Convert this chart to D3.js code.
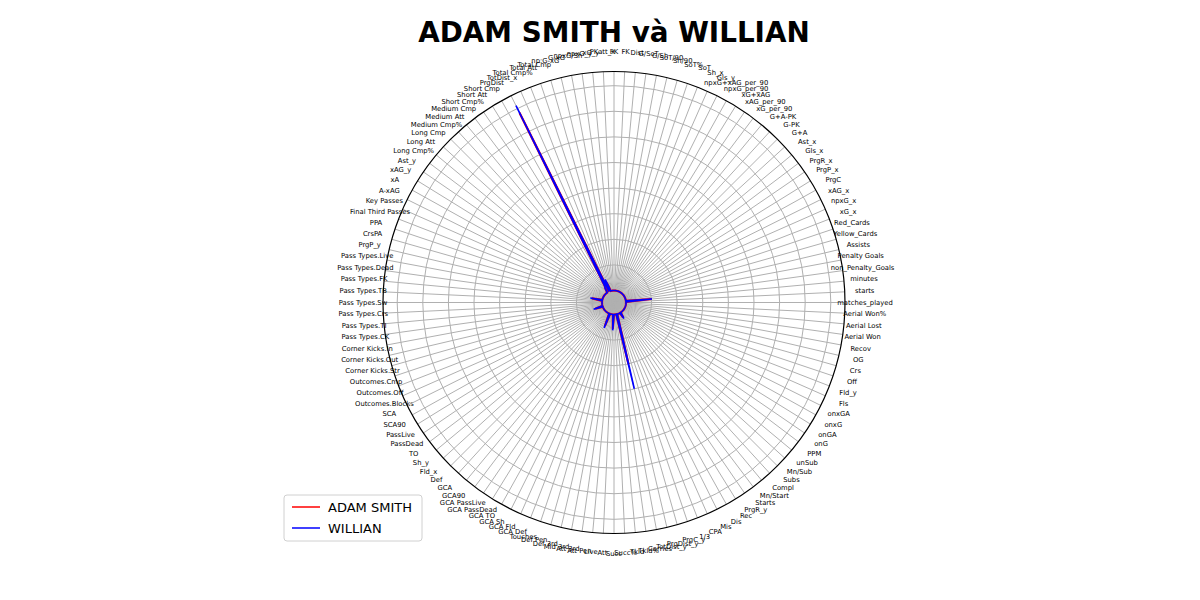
<!DOCTYPE html>
<html><head><meta charset="utf-8">
<script src="https://cdn.jsdelivr.net/npm/d3@7/dist/d3.min.js"></script>
<style>body{margin:0;background:#fff}</style></head>
<body><svg id="c" width="1200" height="600"></svg>
<script>
const categories = ["matches_played","starts","minutes","non_Penalty_Goals","Penalty Goals","Assists","Yellow_Cards","Red_Cards","xG_x","npxG_x",
"xAG_x","PrgC","PrgP_x","PrgR_x","Gls_x","Ast_x","G+A","G-PK","G+A-PK","xG_per_90",
"xAG_per_90","xG+xAG","npxG_per_90","npxG+xAG_per_90","Gls_y","Sh_x","SoT","SoT%","Sh/90","SoT/90",
"G/Sh","G/SoT","Dist","FK","PK","PKatt_x","xG_y","npxG_y","npxG/Sh","G-xG",
"np:G-xG","Total Cmp","Total Att","Total Cmp%","TotDist_x","PrgDist","Short Cmp","Short Att","Short Cmp%","Medium Cmp",
"Medium Att","Medium Cmp%","Long Cmp","Long Att","Long Cmp%","Ast_y","xAG_y","xA","A-xAG","Key Passes",
"Final Third Passes","PPA","CrsPA","PrgP_y","Pass Types.Live","Pass Types.Dead","Pass Types.FK","Pass Types.TB","Pass Types.Sw","Pass Types.Crs",
"Pass Types.TI","Pass Types.CK","Corner Kicks.In","Corner Kicks.Out","Corner Kicks.Str","Outcomes.Cmp","Outcomes.Off","Outcomes.Blocks","SCA","SCA90",
"PassLive","PassDead","TO","Sh_y","Fld_x","Def","GCA","GCA90","GCA PassLive","GCA PassDead",
"GCA TO","GCA Sh","GCA Fld","GCA Def","Touches","Def Pen","Def 3rd","Mid 3rd","Att 3rd","Att Pen",
"Live","Att","Succ","Succ%","Tkld","Tkld%","Carries","TotDist_y","PrgDist_y","PrgC_y",
"1/3","CPA","Mis","Dis","Rec","PrgR_y","Starts","Mn/Start","Compl","Subs",
"Mn/Sub","unSub","PPM","onG","onGA","onxG","onxGA","Fls","Fld_y","Off",
"Crs","OG","Recov","Aerial Won","Aerial Lost","Aerial Won%"];
const adamSmith = [0,0,505,0,0,0,0,0,0,0, 0,0,0,0,0,0,0,0,0,0, 0,0,0,0,0,0,0,0,0,0, 0,0,0,0,0,0,0,0,0,0,
0,100,200,0,3900,120,80,0,0,0, 0,0,0,0,0,0,0,0,0,0, 0,0,0,0,200,0,0,0,0,0, 0,0,0,0,0,150,0,0,0,0,
0,0,0,0,0,0,0,0,0,0, 0,0,0,0,260,0,0,0,0,0, 0,280,0,0,0,0,0,1000,0,0, 0,0,0,0,110,0,0,0,0,0,
0,0,0,0,0,0,0,0,0,0, 0,0,0,0,0,0];
const willian = [0,0,510,0,0,0,0,0,0,0, 0,0,0,0,0,0,0,0,0,0, 0,0,0,0,0,0,0,0,0,0, 0,0,0,0,0,0,0,0,0,0,
0,120,250,0,4060,150,100,0,0,0, 0,0,0,0,0,0,0,0,0,0, 0,0,0,0,235,0,0,0,0,0, 0,0,0,0,0,185,0,0,0,0,
0,0,0,0,0,0,0,0,0,0, 0,0,0,0,300,0,0,0,0,0, 0,310,0,0,0,0,0,1495,0,0, 0,0,0,0,135,0,0,0,0,0,
0,0,0,0,0,0,0,0,0,0, 0,0,0,0,0,0];
const radialTicks = [0,500,1000,1500,2000,2500,3000,3500,4000];
const seriesNames = ["ADAM SMITH","WILLIAN"];
const seriesColors = ["red","blue"];

const svg = d3.select("#c");
const cx = 614, cy = 302.5, R = 231;
const N = categories.length;
const r = d3.scaleLinear().domain([-234, 4277]).range([0, R]);
const ang = d3.scaleLinear().domain([0, N]).range([0, 2*Math.PI]);
const px = (i, v) => cx + r(v) * Math.cos(ang(i));
const py = (i, v) => cy - r(v) * Math.sin(ang(i));
const g = svg.append("g");

categories.forEach((c, i) => {
  g.append("line").attr("x1", cx).attr("y1", cy)
    .attr("x2", cx + R*Math.cos(ang(i))).attr("y2", cy - R*Math.sin(ang(i)))
    .attr("stroke", "#b0b0b0").attr("stroke-width", 1);
  g.append("text").attr("x", cx + 251*Math.cos(ang(i))).attr("y", cy - 251*Math.sin(ang(i)))
    .attr("text-anchor", "middle").attr("dominant-baseline", "central")
    .attr("font-family", "DejaVu Sans").attr("font-size", 6.8).text(c);
});
radialTicks.forEach(t => {
  g.append("circle").attr("cx", cx).attr("cy", cy).attr("r", r(t))
    .attr("fill", "none").attr("stroke", "#b0b0b0").attr("stroke-width", 1);
});
g.append("circle").attr("cx", cx).attr("cy", cy).attr("r", R)
  .attr("fill", "none").attr("stroke", "black").attr("stroke-width", 1.2);

const line = d3.line().x(d => px(d[0], d[1])).y(d => py(d[0], d[1])).curve(d3.curveLinearClosed);
[adamSmith, willian].forEach((s, k) => {
  g.append("path").attr("d", line(s.map((v, i) => [i, v])))
    .attr("fill", "none").attr("stroke", seriesColors[k]).attr("stroke-width", k === 0 ? 2.2 : 1.6);
});

svg.append("text").attr("x", 614).attr("y", 42).attr("text-anchor", "middle")
  .attr("font-family", "DejaVu Sans").attr("font-weight", "bold").attr("font-size", 27.8)
  .text("ADAM SMITH và WILLIAN");

const lg = svg.append("g").attr("transform", "translate(284,495)");
lg.append("rect").attr("width", 138).attr("height", 46).attr("rx", 3)
  .attr("fill", "white").attr("stroke", "#d0d0d0");
seriesNames.forEach((n, k) => {
  lg.append("line").attr("x1", 8).attr("x2", 36).attr("y1", 12 + k*21).attr("y2", 12 + k*21)
    .attr("stroke", seriesColors[k]).attr("stroke-width", 1.5);
  lg.append("text").attr("x", 44).attr("y", 12 + k*21).attr("dominant-baseline", "central")
    .attr("font-family", "DejaVu Sans").attr("font-size", 13).text(n);
});
</script></body></html>
